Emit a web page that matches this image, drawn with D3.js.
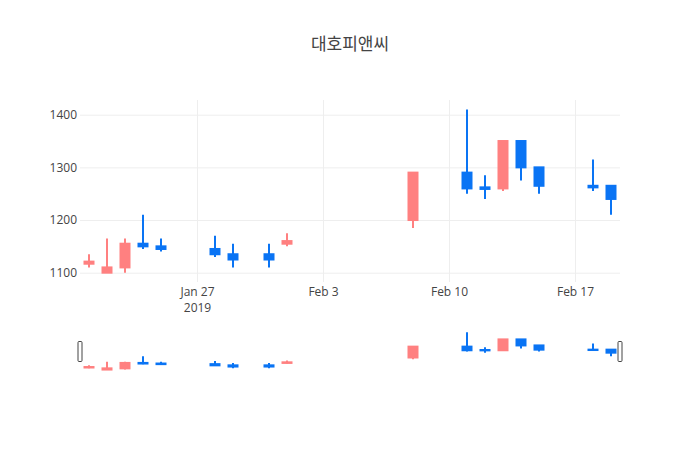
<!DOCTYPE html>
<html>
<head>
<meta charset="utf-8">
<script src="https://cdn.jsdelivr.net/npm/d3@7"></script>
<style>
  body { margin: 0; background: #fff; }
  svg text { font-family: "Open Sans", "Noto Sans CJK KR", sans-serif; }
</style>
</head>
<body>
<svg id="chart"></svg>
<script>
// daily prices (KRW)
const dates  = ['2019-01-21', '2019-01-22', '2019-01-23', '2019-01-24', '2019-01-25',
                '2019-01-28', '2019-01-29', '2019-01-31', '2019-02-01', '2019-02-08',
                '2019-02-11', '2019-02-12', '2019-02-13', '2019-02-14', '2019-02-15',
                '2019-02-18', '2019-02-19'];
const opens  = [1117, 1100, 1110, 1155, 1150, 1145, 1135, 1135, 1155, 1200, 1290, 1262, 1260, 1350, 1300, 1265, 1265];
const highs  = [1135, 1165, 1165, 1210, 1165, 1170, 1155, 1155, 1175, 1290, 1410, 1285, 1350, 1350, 1300, 1315, 1265];
const lows   = [1110, 1100, 1100, 1145, 1140, 1130, 1110, 1110, 1150, 1185, 1250, 1240, 1255, 1275, 1250, 1255, 1210];
const closes = [1121, 1110, 1155, 1150, 1145, 1135, 1125, 1125, 1160, 1290, 1260, 1259, 1350, 1300, 1265, 1262, 1240];

const yTicks = [1100, 1200, 1300, 1400];
const xTicks = ['2019-01-27', '2019-02-03', '2019-02-10', '2019-02-17'];
const chartTitle = '대호피앤씨';

const upColor = '#ff8080';
const downColor = '#0a74f4';

const width = 700;
const height = 450;
const margin = { left: 80, right: 80, top: 100 };
const plotBottom = 282;
const sliderTop = 330, sliderBottom = 371.7;

const parse = d3.utcParse('%Y-%m-%d');
const candles = dates.map((d, i) => ({
    date: parse(d),
    open: opens[i], high: highs[i], low: lows[i], close: closes[i]
}));

const svg = d3.select('#chart')
    .attr('width', width)
    .attr('height', height);

const day = 24 * 3600 * 1000;
const x = d3.scaleUtc()
    .domain([new Date(+parse(dates[0]) - day / 2), new Date(+parse(dates[dates.length - 1]) + day / 2)])
    .range([margin.left, width - margin.right]);

const yDomain = [1082.3, 1427.9];
const y = d3.scaleLinear().domain(yDomain).range([plotBottom, margin.top]);
const ySlider = d3.scaleLinear().domain(yDomain).range([sliderBottom, sliderTop]);

// title
svg.append('text')
    .attr('x', width / 2)
    .attr('y', 50)
    .attr('text-anchor', 'middle')
    .attr('font-size', 17)
    .attr('fill', '#444')
    .text(chartTitle);

// y axis + horizontal grid
const yAxis = svg.append('g')
    .attr('transform', `translate(${margin.left},0)`)
    .call(d3.axisLeft(y)
        .tickValues(yTicks)
        .tickSize(-(width - margin.left - margin.right))
        .tickPadding(3)
        .tickFormat(d3.format('d')));
yAxis.select('.domain').remove();
yAxis.selectAll('.tick line').attr('stroke', '#eee');
yAxis.selectAll('.tick text').attr('fill', '#444').attr('font-size', 12);

// x axis + vertical grid
const xAxis = svg.append('g')
    .attr('transform', `translate(0,${plotBottom})`)
    .call(d3.axisBottom(x)
        .tickValues(xTicks.map(parse))
        .tickSize(-(plotBottom - margin.top))
        .tickPadding(5)
        .tickFormat(d3.utcFormat('%b %-d')));
xAxis.select('.domain').remove();
xAxis.selectAll('.tick line').attr('stroke', '#eee');
xAxis.selectAll('.tick text').attr('fill', '#444').attr('font-size', 12)
    .each(function (d, i) {
        if (i === 0) {
            d3.select(this).append('tspan')
                .attr('x', 0)
                .attr('dy', '1.35em')
                .text(d3.utcFormat('%Y')(d));
        }
    });

function drawCandles(g, yScale) {
    const c = g.selectAll('g.candle')
        .data(candles)
        .enter().append('g')
        .attr('class', 'candle')
        .attr('stroke', d => d.close > d.open ? upColor : downColor)
        .attr('fill', d => d.close > d.open ? upColor : downColor)
        .attr('stroke-width', 2);

    c.append('line')
        .attr('x1', d => x(d.date))
        .attr('x2', d => x(d.date))
        .attr('y1', d => yScale(d.high))
        .attr('y2', d => yScale(d.low));

    c.append('rect')
        .attr('x', d => x(d.date) - 4.5)
        .attr('width', 9)
        .attr('y', d => yScale(Math.max(d.open, d.close)))
        .attr('height', d => Math.abs(yScale(d.open) - yScale(d.close)));
}

svg.append('clipPath').attr('id', 'plotClip')
    .append('rect')
    .attr('x', margin.left).attr('y', margin.top)
    .attr('width', width - margin.left - margin.right)
    .attr('height', plotBottom - margin.top);

drawCandles(svg.append('g').attr('clip-path', 'url(#plotClip)'), y);

// range slider
svg.append('rect')
    .attr('x', margin.left).attr('y', sliderTop)
    .attr('width', width - margin.left - margin.right)
    .attr('height', sliderBottom - sliderTop)
    .attr('fill', '#fff');

svg.append('clipPath').attr('id', 'sliderClip')
    .append('rect')
    .attr('x', margin.left).attr('y', sliderTop)
    .attr('width', width - margin.left - margin.right)
    .attr('height', sliderBottom - sliderTop);

drawCandles(svg.append('g').attr('clip-path', 'url(#sliderClip)'), ySlider);

const sliderMid = (sliderTop + sliderBottom) / 2;
[margin.left, width - margin.right].forEach(hx => {
    svg.append('rect')
        .attr('x', hx - 2)
        .attr('y', Math.round(sliderMid - 10) + 0.5)
        .attr('width', 4)
        .attr('height', 20)
        .attr('rx', 1)
        .attr('fill', '#fff')
        .attr('stroke', '#444')
        .attr('stroke-width', 1);
});
</script>
</body>
</html>
